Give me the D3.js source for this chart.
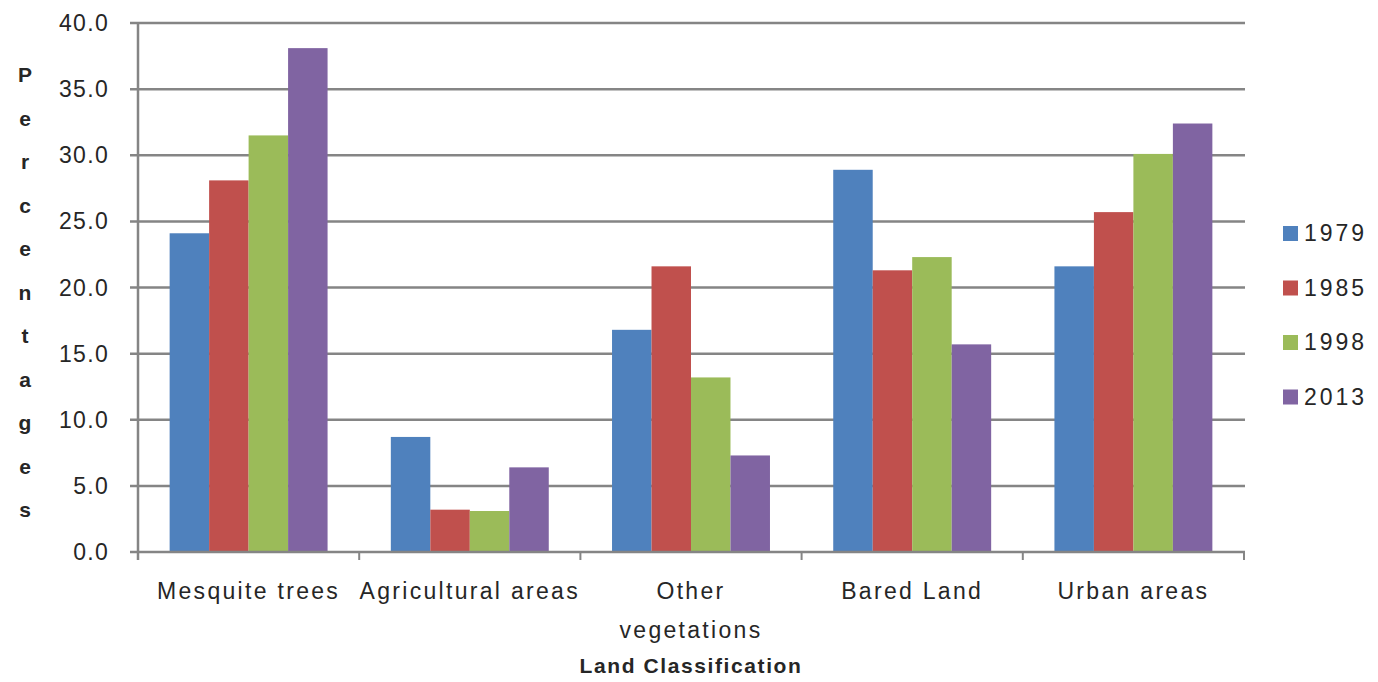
<!DOCTYPE html>
<html>
<head>
<meta charset="utf-8">
<script src="https://cdn.jsdelivr.net/npm/d3@7"></script>
<style>
  html, body { margin: 0; padding: 0; background: #fff; }
  svg { display: block; }
  text { font-family: "Liberation Sans", Arial, sans-serif; fill: #262626; }
</style>
</head>
<body>
<svg id="chart" width="1378" height="682"></svg>
<script>
// Land classification categories (x axis)
const categories = ["Mesquite trees", "Agricultural areas", "Other vegetations", "Bared Land", "Urban areas"];
// Years shown as series
const years = ["1979", "1985", "1998", "2013"];
// Percentage of area per category, one array per year
const values1979 = [24.1, 8.7, 16.8, 28.9, 21.6];
const values1985 = [28.1, 3.2, 21.6, 21.3, 25.7];
const values1998 = [31.5, 3.1, 13.2, 22.3, 30.1];
const values2013 = [38.1, 6.4, 7.3, 15.7, 32.4];
const yTicks = [0, 5, 10, 15, 20, 25, 30, 35, 40];
const colors = ["#4F81BD", "#C0504D", "#9BBB59", "#8064A2"];

const seriesValues = [values1979, values1985, values1998, values2013];

const svg = d3.select("#chart");
const margin = { left: 138, right: 134, top: 23, bottom: 130 };
const W = 1378, H = 682;
const plotW = W - margin.left - margin.right;
const plotH = H - margin.top - margin.bottom;

const g = svg.append("g").attr("transform", `translate(${margin.left},${margin.top})`);

const x0 = d3.scaleBand().domain(categories).range([0, plotW]).paddingInner(0).paddingOuter(0);
const x1 = d3.scaleBand().domain(years).range([x0.bandwidth() * 0.143, x0.bandwidth() * 0.857]).padding(0);
const y = d3.scaleLinear().domain([0, 40]).range([plotH, 0]);

const lineColor = "#858585";

// horizontal gridlines with short outer ticks on the left
g.append("g").selectAll("line").data(yTicks.filter(d => d > 0)).join("line")
  .attr("x1", -8).attr("x2", plotW + 1)
  .attr("y1", d => y(d)).attr("y2", d => y(d))
  .attr("stroke", lineColor).attr("stroke-width", 2.5);

// bars
const groups = g.append("g").selectAll("g").data(categories).join("g")
  .attr("transform", d => `translate(${x0(d)},0)`);
groups.selectAll("rect")
  .data((c, ci) => years.map((yr, si) => ({ yr, si, v: seriesValues[si][ci] })))
  .join("rect")
  .attr("x", d => x1(d.yr))
  .attr("width", x1.bandwidth())
  .attr("y", d => y(d.v))
  .attr("height", d => y(0) - y(d.v))
  .attr("fill", d => colors[d.si]);

// y axis line and zero line
g.append("line").attr("x1", 0).attr("x2", 0).attr("y1", 0).attr("y2", plotH + 8)
  .attr("stroke", lineColor).attr("stroke-width", 2.5);
g.append("line").attr("x1", -8).attr("x2", plotW + 1).attr("y1", plotH).attr("y2", plotH)
  .attr("stroke", lineColor).attr("stroke-width", 2.5);
// category separator ticks
g.append("g").selectAll("line").data(d3.range(1, categories.length + 1)).join("line")
  .attr("x1", i => i * x0.bandwidth()).attr("x2", i => i * x0.bandwidth())
  .attr("y1", plotH).attr("y2", plotH + 8)
  .attr("stroke", lineColor).attr("stroke-width", 2);

// y tick labels
g.append("g").selectAll("text").data(yTicks).join("text")
  .attr("x", -29).attr("y", d => y(d))
  .attr("dy", "0.35em")
  .attr("text-anchor", "end")
  .style("font-size", "23px").style("letter-spacing", "1.3px")
  .text(d => d3.format(".1f")(d));

// x category labels (wrapped where needed)
const xLabels = g.append("g").selectAll("text").data(categories).join("text")
  .attr("x", d => x0(d) + x0.bandwidth() / 2)
  .attr("y", plotH + 47)
  .attr("text-anchor", "middle")
  .style("font-size", "23px").style("letter-spacing", "2.3px");
xLabels.each(function(d) {
  const t = d3.select(this);
  const lines = d === "Other vegetations" ? ["Other", "vegetations"] : [d];
  lines.forEach((ln, i) => {
    t.append("tspan").attr("x", x0(d) + x0.bandwidth() / 2).attr("dy", i === 0 ? 0 : 39).text(ln);
  });
});

// x axis title
svg.append("text")
  .attr("x", margin.left + plotW / 2 - 0).attr("y", 673)
  .attr("text-anchor", "middle")
  .style("font-size", "21px").style("font-weight", "bold").style("letter-spacing", "1.6px")
  .text("Land Classification");

// y axis title, letters stacked vertically
const yTitle = "Percentages".split("");
svg.append("g").selectAll("text").data(yTitle).join("text")
  .attr("x", 25)
  .attr("y", (d, i) => 75 + i * 43.5)
  .attr("dy", "0.35em")
  .attr("text-anchor", "middle")
  .style("font-size", "21px").style("font-weight", "bold")
  .text(d => d);

// legend
const legend = svg.append("g").attr("transform", "translate(1283,233)");
const li = legend.selectAll("g").data(years).join("g")
  .attr("transform", (d, i) => `translate(0,${i * 54.5})`);
li.append("rect").attr("x", 0).attr("y", -7).attr("width", 15).attr("height", 15)
  .attr("fill", (d, i) => colors[i]);
li.append("text").attr("x", 21).attr("y", 0).attr("dy", "0.35em")
  .style("font-size", "23px").style("letter-spacing", "3px")
  .text(d => d);
</script>
</body>
</html>
